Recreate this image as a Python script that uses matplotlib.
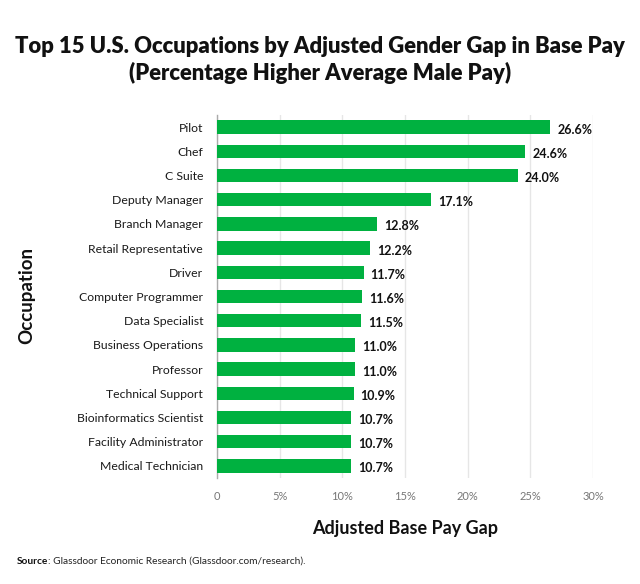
import matplotlib
matplotlib.use("Agg")
import matplotlib.pyplot as plt

occupations = ["Pilot", "Chef", "C Suite", "Deputy Manager", "Branch Manager",
               "Retail Representative", "Driver", "Computer Programmer",
               "Data Specialist", "Business Operations", "Professor",
               "Technical Support", "Bioinformatics Scientist",
               "Facility Administrator", "Medical Technician"]
gap = [26.6, 24.6, 24.0, 17.1, 12.8, 12.2, 11.7, 11.6, 11.5, 11.0, 11.0,
       10.9, 10.7, 10.7, 10.7]
xticks = [0, 5, 10, 15, 20, 25, 30]
xticklabels = ["0", "5%", "10%", "15%", "20%", "25%", "30%"]

plt.rcParams['font.family'] = ['Lato', 'DejaVu Sans']

fig = plt.figure(figsize=(6.4, 5.84), dpi=100)
ax = fig.add_axes([217/640, 1-478/584, 376/640, 363/584])

y = list(range(len(occupations)))
ax.barh(y, gap, height=0.55, color="#00b140", zorder=3)
for yi, v in zip(y, gap):
    ax.text(v + 0.55, yi + 0.1, f"{v:.1f}%", va="center", ha="left",
            fontsize=9, fontweight="bold", color="#111111")

ax.set_ylim(14.5, -0.5)
ax.set_xlim(0, 30)
ax.set_yticks(y)
ax.set_yticklabels(occupations, fontsize=8.8, color="#1a1a1a")
ax.tick_params(axis="both", length=0)
ax.tick_params(axis="y", pad=10)
ax.set_xticks(xticks)
ax.set_xticklabels(xticklabels, fontsize=8, color="#777777")
ax.tick_params(axis="x", pad=9)
ax.grid(axis="x", color="#e6e6e6", linewidth=1, zorder=0)
for s in ["top", "right", "bottom"]:
    ax.spines[s].set_visible(False)
ax.spines["left"].set_color("#aaaaaa")
ax.spines["left"].set_linewidth(1)

ax.set_xlabel("Adjusted Base Pay Gap", fontsize=13, fontweight="bold",
              color="#111111", labelpad=13)
fig.text(27/640, 1-295/584, "Occupation", rotation=90, fontsize=13.5,
         fontweight="bold", color="#111111", ha="center", va="center")

fig.text(0.5, 1-60/584, "Top 15 U.S. Occupations by Adjusted Gender Gap in Base Pay\n(Percentage Higher Average Male Pay)",
         ha="center", va="center", fontsize=15.8, fontweight="heavy",
         color="#111111", linespacing=1.3)

t = fig.text(17/640, 1-561/584, "Source", fontsize=7.3, fontweight="bold",
             ha="left", va="center", color="#111111")
fig.canvas.draw()
bb = t.get_window_extent()
fig.text(bb.x1/640, 1-561/584, ": Glassdoor Economic Research (Glassdoor.com/research).",
         fontsize=7.3, ha="left", va="center", color="#222222")

fig.savefig("out.png", dpi=100)
